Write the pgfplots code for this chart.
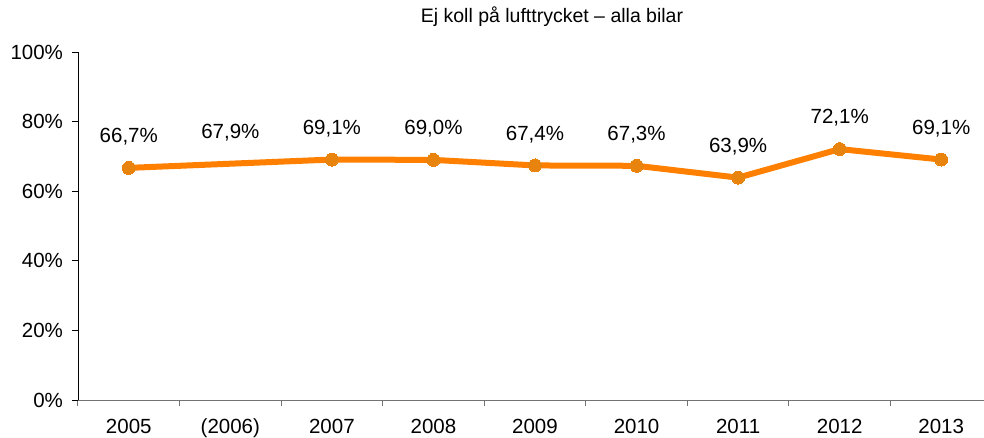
\documentclass[border=0pt]{standalone}
\usepackage{fontspec}
\setmainfont{Liberation Sans}
\usepackage{pgfplots}
\pgfplotsset{compat=1.18}
\definecolor{lineor}{HTML}{FF8000}
\definecolor{markor}{HTML}{E8840E}
\begin{document}
\fontsize{20.5}{24}\selectfont
\begin{tikzpicture}
\path[use as bounding box] (-78pt,-37pt) rectangle (906pt,400pt);
\begin{axis}[
  at={(0pt,0pt)}, anchor=south west,
  scale only axis,
  width=914pt, height=348pt,
  xmin=-0.5, xmax=8.5,
  ymin=0, ymax=100,
  axis x line*=bottom,
  axis y line*=left,
  x axis line style={draw=black!55, line width=1pt, -},
  y axis line style={draw=black, line width=0.8pt, -},
  xtick={0,...,8},
  xticklabels={2005,(2006),2007,2008,2009,2010,2011,2012,2013},
  major x tick style={draw=none},
  minor xtick={-0.5,0.5,...,8.5},
  minor x tick style={draw=black!55, line width=1pt},
  minor tick length=6pt,
  xtick pos=bottom,
  ytick={0,20,...,100},
  yticklabels={0\%,20\%,40\%,60\%,80\%,100\%},
  ytick pos=left,
  y tick style={draw=black, line width=0.8pt},
  major tick length=6pt,
  tick align=outside,
  xticklabel style={yshift=-6pt},
  yticklabel style={xshift=-2pt},
  clip=false,
]
\addplot[lineor, line width=6pt, line join=round] coordinates {
 (0,66.7) (1,67.9) (2,69.1) (3,69.0) (4,67.4) (5,67.3) (6,63.9) (7,72.1) (8,69.1)};
\addplot[only marks, mark=*, mark size=6.5pt, mark options={fill=markor, draw=markor, line width=0pt}] coordinates {
 (0,66.7) (2,69.1) (3,69.0) (4,67.4) (5,67.3) (6,63.9) (7,72.1) (8,69.1)};
\addplot[draw=none, mark=none, point meta=explicit symbolic,
  nodes near coords, nodes near coords style={anchor=center, yshift=31pt, font=\fontsize{20.5}{24}\selectfont}] coordinates {
 (0,66.7) [66,7\%]
 (1,67.9) [67,9\%]
 (2,69.1) [69,1\%]
 (3,69.0) [69,0\%]
 (4,67.4) [67,4\%]
 (5,67.3) [67,3\%]
 (6,63.9) [63,9\%]
 (7,72.1) [72,1\%]
 (8,69.1) [69,1\%]};
\end{axis}
\node[font=\fontsize{19.5}{23}\selectfont] at (474pt,383pt) {Ej koll på lufttrycket – alla bilar};
\end{tikzpicture}
\end{document}
